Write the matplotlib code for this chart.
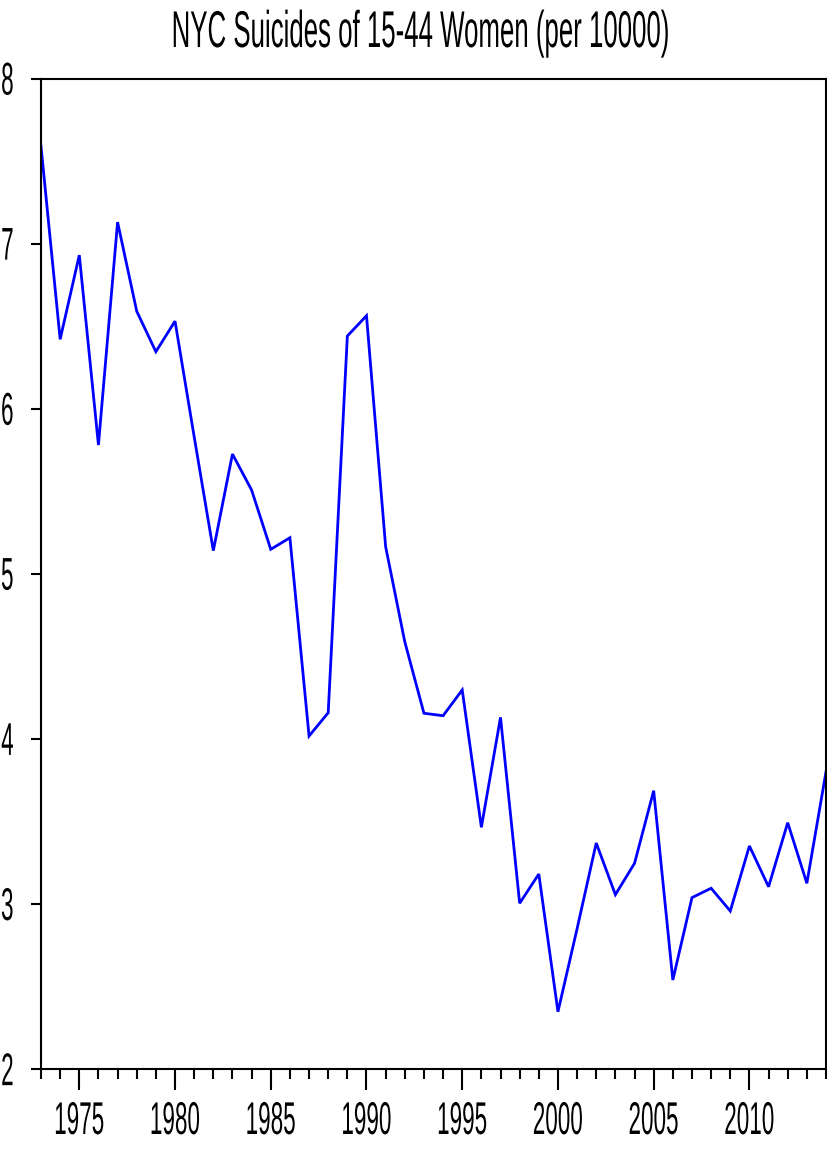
import matplotlib
matplotlib.use('Agg')
import matplotlib.pyplot as plt
import matplotlib.patheffects as pe
from matplotlib.transforms import Affine2D
from matplotlib.ticker import FixedLocator

# ---- data ----
years = list(range(1973, 2015))
rates = [7.59, 6.42, 6.93, 5.78, 7.13, 6.59, 6.345, 6.53, 5.83, 5.14,
         5.725, 5.507, 5.148, 5.218, 4.017, 4.158, 6.44, 6.563, 5.164, 4.588,
         4.155, 4.14, 4.296, 3.464, 4.13, 3.004, 3.181, 2.347, 2.85, 3.369,
         3.056, 3.246, 3.686, 2.539, 3.038, 3.095, 2.957, 3.351, 3.104, 3.492,
         3.125, 3.80]
y_ticks = [2, 3, 4, 5, 6, 7, 8]
x_major = [1975, 1980, 1985, 1990, 1995, 2000, 2005, 2010]
x_minor = years
title = "NYC Suicides of 15-44 Women (per 10000)"


class Tall(pe.AbstractPathEffect):
    """Stretch glyphs vertically (text stays a Text artist)."""
    def __init__(self, sy=2.0, anchor='baseline'):
        super().__init__()
        self.sy = sy
        self.anchor = anchor

    def draw_path(self, renderer, gc, tpath, affine, rgbFace=None):
        ext = tpath.get_extents()
        if self.anchor == 'top':
            cy = ext.y1
        elif self.anchor == 'center':
            cy = 0.5 * (ext.y0 + ext.y1)
        else:
            cy = 0.0
        t = Affine2D().translate(0, -cy).scale(1, self.sy).translate(0, cy) + affine
        renderer.draw_path(gc, tpath, t, rgbFace)


plt.rcParams['font.family'] = ['Liberation Sans', 'DejaVu Sans']

W, H = 828, 1151
fig = plt.figure(figsize=(W / 100, H / 100), dpi=100)
ax = fig.add_axes([41 / W, 1 - 1069 / H, (826 - 41) / W, (1069 - 78.5) / H])

ax.plot(years, rates, color='#0000ff', lw=2.0, solid_joinstyle='miter')

ax.set_xlim(1973, 2014)
ax.set_ylim(2, 8)

ax.set_xticks(x_major)
ax.set_xticklabels([str(v) for v in x_major])
ax.xaxis.set_minor_locator(FixedLocator([y for y in x_minor if y not in x_major]))
ax.set_yticks(y_ticks)
ax.set_yticklabels([str(v) for v in y_ticks])

for s in ax.spines.values():
    s.set_linewidth(1.5)
    s.set_color('black')

ax.tick_params(axis='x', which='major', direction='out', length=15, width=1.5,
               labelsize=16.2, pad=8.5)
ax.tick_params(axis='x', which='minor', direction='out', length=7.2, width=1.5)
ax.tick_params(axis='y', which='major', direction='out', length=7.2, width=1.5,
               labelsize=16.2, pad=12.5)

for lab in ax.get_xticklabels():
    lab.set_path_effects([Tall(2.04, 'top')])
for lab in ax.get_yticklabels():
    lab.set_path_effects([Tall(2.04, 'center')])

fig.text(421 / W, 1 - 47 / H, title, ha='center', va='baseline', fontsize=18.6,
         path_effects=[Tall(2.0, 'baseline')])

fig.savefig('out.png', dpi=100)
